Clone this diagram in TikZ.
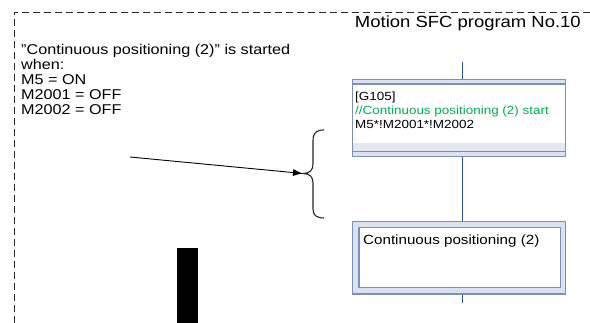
\documentclass[tikz,border=0pt]{standalone}
\usepackage{fontspec}
\setmainfont[FakeStretch=1.14]{Liberation Sans}
\usetikzlibrary{arrows.meta}
\definecolor{sfcblue}{RGB}{47,79,155}
\definecolor{boxedge}{RGB}{125,142,187}
\definecolor{boxfill}{RGB}{218,225,240}
\definecolor{bandfill}{RGB}{228,230,240}
\definecolor{commentgreen}{RGB}{0,176,80}
\definecolor{frame}{RGB}{40,40,40}
\begin{document}
\begin{tikzpicture}[x=1pt,y=-1pt,
  framedash/.style={draw=frame,line width=0.9pt,dash pattern=on 7pt off 4pt},
  flow/.style={draw=sfcblue,line width=1.4pt},
  outerbox/.style={draw=boxedge,fill=boxfill,line width=1.1pt,inner sep=0pt},
  innerbox/.style={draw=boxedge,fill=white,line width=1.1pt,inner sep=0pt},
  lefttxt/.style={anchor=base west,inner sep=0pt,font=\fontsize{14.2}{15}\selectfont},
  boxtxt/.style={anchor=base west,inner sep=0pt,font=\fontsize{11.8}{14}\selectfont},
  titletxt/.style={anchor=base east,inner sep=0pt,font=\fontsize{16.2}{18}\selectfont},
  note/.style={draw=black,line width=0.9pt,-{Latex[length=10pt,width=7pt]}},
  bracestyle/.style={draw=black!85,line width=1.1pt}
]
\useasboundingbox (0,0) rectangle (590,323);
% dashed frame
\coordinate (fc) at (14,12);
\coordinate (fr) at (590,12);
\coordinate (fb) at (14,323);
\draw[framedash] (fr) -- (fc) -- (fb);
% title
\node[titletxt] (title) at (581,28) {Motion SFC program No.10};
% left text
\node[lefttxt] (t1) at (21,55) {\char34 Continuous positioning (2)\char34{} is started};
\node[lefttxt] (t2) at (21,70) {when:};
\node[lefttxt] (t3) at (21,85) {M5 = ON};
\node[lefttxt] (t4) at (21,100) {M2001 = OFF};
\node[lefttxt] (t5) at (21,115) {M2002 = OFF};
% transition box G105
\node[outerbox,minimum width=213pt,minimum height=77.4pt] (g105) at (459.2,118) {};
\fill[white] (353.3,84) rectangle (565.1,151.7);
\fill[bandfill] (353.3,143) rectangle (565.1,150.8);
\draw[boxedge,line width=1.1pt] (352.7,84) -- (565.7,84);
\draw[boxedge,line width=1.1pt] (352.7,151.7) -- (565.7,151.7);
\node[boxtxt] (g1) at (355,100.5) {[G105]};
\node[boxtxt,text=commentgreen] (g2) at (355,114.5) {//Continuous positioning (2) start};
\node[boxtxt] (g3) at (355,128.5) {M5*!M2001*!M2002};
% step box
\node[outerbox,minimum width=213pt,minimum height=72.3pt] (step) at (459.2,257.85) {};
\node[innerbox,minimum width=201.7pt,minimum height=60.4pt] (stepin) at (459.85,257.5) {};
\node[anchor=base west,inner sep=0pt,font=\fontsize{13.3}{15}\selectfont] (s1) at (363,245) {Continuous positioning (2)};
% flow line
\coordinate (ftop) at (462.7,62);
\coordinate (fbot) at (462.7,303);
\draw[flow] (ftop) -- (ftop |- g105.north);
\draw[flow] (ftop |- g105.south) -- (ftop |- step.north);
\draw[flow] (ftop |- step.south) -- (fbot);
% brace
\coordinate (btip) at (303,173.5);
\coordinate (btop) at (324,130);
\coordinate (bbot) at (324,218);
\draw[bracestyle] (btop) .. controls (316,130) and (313,133) .. (313,141) -- (313,164)
  .. controls (313,170) and (310,173.5) .. (btip)
  .. controls (310,173.5) and (313,177) .. (313,183) -- (313,209)
  .. controls (313,215) and (316,218) .. (bbot);
% arrow
\coordinate (astart) at (130,157);
\draw[note] (astart) -- (btip);
% black bar
\fill[black] (177.3,248.3) rectangle (198.3,323);
\end{tikzpicture}
\end{document}
